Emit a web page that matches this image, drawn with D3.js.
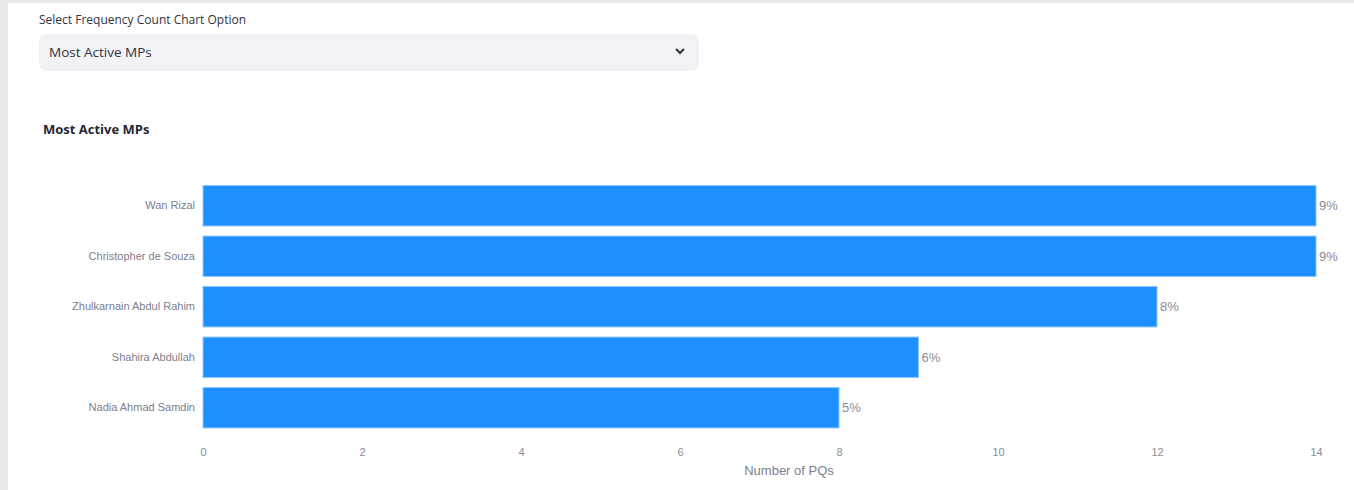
<!DOCTYPE html>
<html>
<head>
<meta charset="utf-8">
<script src="https://cdn.jsdelivr.net/npm/d3@7"></script>
<style>
  html, body { margin: 0; padding: 0; }
  body { width: 1354px; height: 490px; background: #e8e8e8; overflow: hidden; font-family: "Open Sans", "Noto Sans", sans-serif; }
  #page { position: absolute; left: 8px; top: 3px; right: 0; bottom: 0; background: #fff; }
  #sel-label { position: absolute; left: 31px; top: 8px; font-size: 12px; color: #31333f; }
  #sel-box { position: absolute; left: 31px; top: 31px; width: 660px; height: 37px; background: #f0f2f6; border-radius: 8px; }
  #sel-text { position: absolute; left: 10px; top: 9px; font-size: 13.5px; color: #31333f; }
  #sel-arrow { position: absolute; right: 13px; top: 11px; }
  #chart { position: absolute; left: 0; top: 0; }
</style>
</head>
<body>
<div id="page">
  <div id="sel-label">Select Frequency Count Chart Option</div>
  <div id="sel-box">
    <div id="sel-text">Most Active MPs</div>
    <svg id="sel-arrow" width="12" height="12"><path d="M2,4 L6,8 L10,4" fill="none" stroke="#31333f" stroke-width="2"/></svg>
  </div>
</div>
<svg id="chart" width="1354" height="490"></svg>
<script>
const members = ["Wan Rizal", "Christopher de Souza", "Zhulkarnain Abdul Rahim", "Shahira Abdullah", "Nadia Ahmad Samdin"];
const pqCounts = [14, 14, 12, 9, 8];
const shareLabels = ["9%", "9%", "8%", "6%", "5%"];
const xTicks = [0, 2, 4, 6, 8, 10, 12, 14];

const svg = d3.select("#chart");

svg.append("text")
    .attr("x", 43).attr("y", 134)
    .attr("font-family", "Open Sans, Noto Sans, sans-serif")
    .attr("font-weight", "bold")
    .attr("font-size", 13)
    .attr("fill", "#262730")
    .text("Most Active MPs");

const x = d3.scaleLinear().domain([0, 14]).range([203, 1316]);
const y = d3.scaleBand().domain(members).range([180.5, 433]).paddingInner(0.2).paddingOuter(0.1);

const data = members.map((m, i) => ({name: m, value: pqCounts[i], pct: shareLabels[i]}));

svg.selectAll("rect.bar")
    .data(data)
    .join("rect")
    .attr("class", "bar")
    .attr("x", x(0))
    .attr("y", d => y(d.name))
    .attr("width", d => x(d.value) - x(0))
    .attr("height", y.bandwidth())
    .attr("fill", "#1e8fff")
    .attr("stroke", "#8ec6ff")
    .attr("stroke-width", 1);

svg.selectAll("text.pct")
    .data(data)
    .join("text")
    .attr("class", "pct")
    .attr("x", d => x(d.value) + 3)
    .attr("y", d => y(d.name) + y.bandwidth() / 2)
    .attr("dy", "0.35em")
    .attr("font-family", "Liberation Sans, Arial, sans-serif")
    .attr("font-size", 13)
    .attr("fill", "#8a8a99")
    .text(d => d.pct);

const yAxis = g => g
    .attr("transform", `translate(${x(0) - 8},0)`)
    .call(d3.axisLeft(y).tickSize(0).tickPadding(0))
    .call(g => g.select(".domain").remove())
    .call(g => g.selectAll("text")
        .attr("font-family", "Liberation Sans, Arial, sans-serif")
        .attr("font-size", 11)
        .attr("fill", "#7d7e8e"));

const xAxis = g => g
    .attr("transform", `translate(0,441)`)
    .call(d3.axisBottom(x).tickValues(xTicks).tickSize(0).tickPadding(7))
    .call(g => g.select(".domain").remove())
    .call(g => g.selectAll("text")
        .attr("font-family", "Liberation Sans, Arial, sans-serif")
        .attr("font-size", 11)
        .attr("fill", "#8a8b99"));

svg.append("g").call(yAxis);
svg.append("g").call(xAxis);

svg.append("text")
    .attr("x", 789).attr("y", 475)
    .attr("text-anchor", "middle")
    .attr("font-family", "Liberation Sans, Arial, sans-serif")
    .attr("font-size", 13)
    .attr("fill", "#7d7e8e")
    .text("Number of PQs");
</script>
</body>
</html>
